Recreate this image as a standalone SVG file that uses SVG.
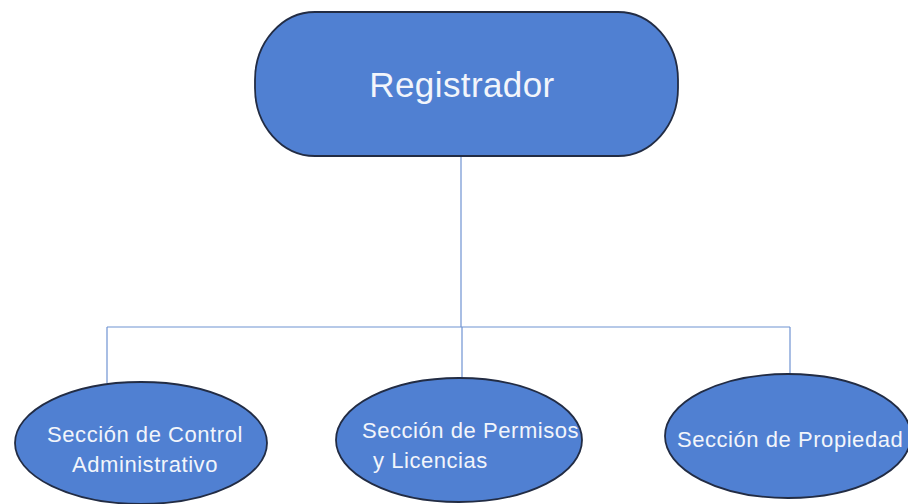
<svg xmlns="http://www.w3.org/2000/svg" width="908" height="504" viewBox="0 0 908 504">
<style>
.node{fill:#5080d2;stroke:#222c44;stroke-width:1.8}
.lbl{fill:#f2f5fb;font-family:"Liberation Sans",Arial,sans-serif;font-size:22px;letter-spacing:0.55px}
.conn{fill:none;stroke:#6f93d2;stroke-width:1.2}
</style>
<rect width="908" height="504" fill="#ffffff"/>
<g id="connectors">
<path class="conn" d="M461 156 V327"/>
<path class="conn" d="M107 327 H790"/>
<path class="conn" d="M107 327 V383"/>
<path class="conn" d="M462 327 V378"/>
<path class="conn" d="M790 327 V374"/>
</g>
<g id="registrador">
<rect class="node" x="255" y="12" width="423" height="144" rx="60" ry="68"/>
<text x="462" y="97" text-anchor="middle" style="fill:#f2f5fb;font-family:'Liberation Sans',Arial,sans-serif;font-size:35px;letter-spacing:0.4px">Registrador</text>
</g>
<g id="control">
<ellipse class="node" cx="141" cy="443" rx="126" ry="61"/>
<text class="lbl" x="145" y="442" text-anchor="middle">Sección de Control</text>
<text class="lbl" x="145" y="472" text-anchor="middle">Administrativo</text>
</g>
<g id="permisos">
<ellipse class="node" cx="459" cy="440" rx="123" ry="62"/>
<text class="lbl" x="362" y="438">Sección de Permisos</text>
<text class="lbl" x="373" y="468">y Licencias</text>
</g>
<g id="propiedad">
<ellipse class="node" cx="788" cy="436" rx="123" ry="62"/>
<text class="lbl" x="677" y="447">Sección de Propiedad</text>
</g>
</svg>
